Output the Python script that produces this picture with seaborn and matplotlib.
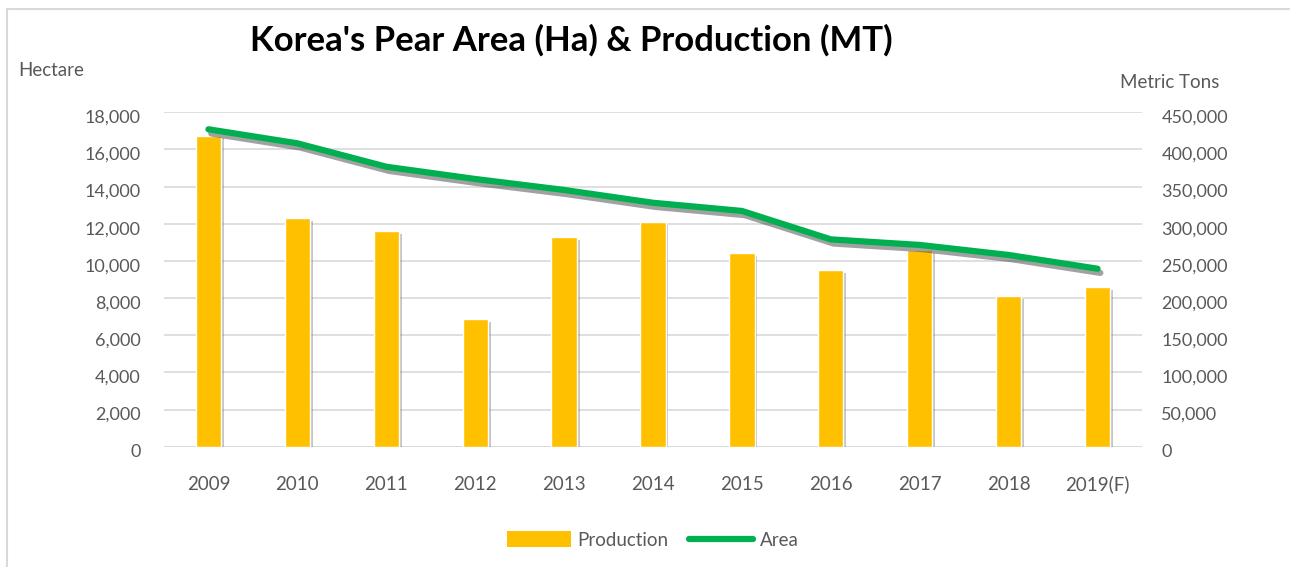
import matplotlib
matplotlib.use("Agg")
import matplotlib.pyplot as plt
import matplotlib.patheffects as pe
import matplotlib.transforms as mtrans
from matplotlib.patches import Rectangle, Patch
from matplotlib.lines import Line2D
from matplotlib.ticker import FuncFormatter, MultipleLocator
import pandas as pd
import seaborn as sns

# values
years = ["2009", "2010", "2011", "2012", "2013", "2014",
         "2015", "2016", "2017", "2018", "2019(F)"]
production_mt = [418500, 307800, 290300, 171800, 282200, 302400,
                 260700, 237800, 264700, 202800, 214900]
area_ha = [17085, 16330, 15070, 14410, 13820, 13130,
           12690, 11160, 10860, 10320, 9580]

df = pd.DataFrame({"year": years, "production": production_mt, "area": area_ha})

sns.set_theme(style="white")
plt.rcParams["font.family"] = ["Lato", "DejaVu Sans"]

txt = "#595959"
grid = "#d9d9d9"
bar_col = "#FFC000"
line_col = "#00B050"
fs = 13.5

fig = plt.figure(figsize=(12.9, 5.67), dpi=100)
ax = fig.add_axes([164 / 1290, 120.3 / 567, 978 / 1290, 334.4 / 567])

# bars -> production, right-hand scale
sns.barplot(data=df, x="year", y="production", color=bar_col, width=0.285,
            saturation=1, ax=ax, zorder=2)
for p in ax.patches:
    p.set_path_effects([pe.SimplePatchShadow(offset=(2, -2), shadow_rgbFace="#7f7f7f", alpha=0.45),
                        pe.Normal()])
ax.set_ylim(0, 450000)
ax.yaxis.set_major_locator(MultipleLocator(50000))
ax.yaxis.set_major_formatter(FuncFormatter(lambda v, _: f"{int(v):,}"))
ax.grid(axis="y", color=grid, linewidth=1.2, zorder=0)
ax.set_axisbelow(True)
ax.axhline(0, color=grid, linewidth=2, zorder=1)
ax.set_xlabel("")
ax.set_ylabel("")

# line -> area, left-hand scale
ax2 = ax.twinx()
sns.lineplot(data=df, x="year", y="area", color=line_col, linewidth=4.5,
             sort=False, ax=ax2)
ln = ax2.lines[0]
ln.set_solid_capstyle("round")
ln.set_solid_joinstyle("round")
ln.set_path_effects([pe.SimpleLineShadow(offset=(2, -3), shadow_color="#444444", alpha=0.5),
                     pe.Normal()])
ax2.set_ylim(0, 18000)
ax2.yaxis.set_major_locator(MultipleLocator(2000))
ax2.yaxis.set_major_formatter(FuncFormatter(lambda v, _: f"{int(v):,}"))
ax2.set_ylabel("")
ax2.set_xlabel("")
ax.set_xlim(-0.5, len(years) - 0.5)

# swap sides: production ticks on the right, area ticks on the left
ax.yaxis.tick_right()
ax2.yaxis.tick_left()

for a in (ax, ax2):
    for s in a.spines.values():
        s.set_visible(False)
    a.tick_params(axis="both", length=0, labelcolor=txt)
    a.tick_params(axis="y", labelsize=13)
ax.tick_params(axis="x", labelsize=fs)
ax.tick_params(axis="y", pad=14)
ax2.tick_params(axis="y", pad=17)

# Excel draws the value labels a little below their gridline
shift = mtrans.ScaledTranslation(0, -4 / 100, fig.dpi_scale_trans)
for lab in ax.get_yticklabels() + ax2.get_yticklabels():
    lab.set_transform(lab.get_transform() + shift)
for lab in ax.get_xticklabels():
    lab.set_va("center")
ax.tick_params(axis="x", pad=27)

fig.text(250 / 1290, 1 - 40 / 567, "Korea's Pear Area (Ha) & Production (MT)",
         ha="left", va="center", fontsize=25, fontweight="bold", color="black")
fig.text(18 / 1290, 1 - 71 / 567, "Hectare", ha="left", va="center",
         fontsize=fs, color=txt)
fig.text(1120 / 1290, 1 - 83 / 567, "Metric Tons", ha="left", va="center",
         fontsize=fs, color=txt)

handles = [Patch(facecolor=bar_col, edgecolor="none"),
           Line2D([0], [0], color=line_col, linewidth=4.5, solid_capstyle="round")]
fig.legend(handles, ["Production", "Area"], loc="center", ncol=2,
           bbox_to_anchor=(653 / 1290, 1 - 540 / 567), frameon=False,
           fontsize=fs, labelcolor=txt, handlelength=3.4, handleheight=0.9,
           columnspacing=1.1, handletextpad=0.35)

# chart border
fig.patches.append(Rectangle((7 / 1290, -0.02), 1.05, 1 - 9 / 567 + 0.02,
                             transform=fig.transFigure, fill=False,
                             edgecolor=grid, linewidth=1.5))

fig.savefig("out.png", dpi=100)
